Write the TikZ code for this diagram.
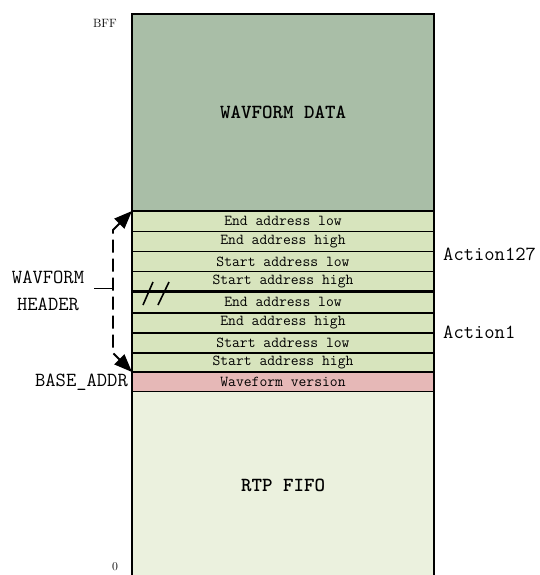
\documentclass[tikz,border=0pt]{standalone}
\usetikzlibrary{arrows.meta,positioning}
\definecolor{DataGreen}{RGB}{169,190,167}
\definecolor{HeadGreen}{RGB}{215,228,189}
\definecolor{FifoGreen}{RGB}{235,241,222}
\definecolor{VerPink}{RGB}{230,184,183}
\tikzset{
  memblock/.style={draw=black,line width=1.4pt,inner sep=0pt,outer sep=0pt,minimum width=302pt,font=\fontsize{20}{22}\selectfont\ttfamily\bfseries},
  hdrrow/.style={draw=black,line width=1.2pt,fill=HeadGreen,inner sep=0pt,outer sep=0pt,minimum width=302pt,font=\fontsize{15.2}{16}\selectfont\ttfamily},
  sidelabel/.style={inner sep=0pt,font=\fontsize{20}{27}\selectfont\ttfamily},
  addrlabel/.style={inner sep=0pt,font=\fontsize{12}{13}\selectfont},
  hdrpath/.style={{Triangle[length=18pt,width=14pt]}-{Triangle[length=18pt,width=14pt]},line width=1.8pt,dash pattern=on 13pt off 6pt},
  ticklink/.style={line width=1pt}
}

\begin{document}
\begin{tikzpicture}[x=1pt,y=-1pt]
\useasboundingbox (0,0) rectangle (539,575);
\clip (0,0) rectangle (539,575);

\node[memblock,fill=DataGreen,minimum height=197pt] (data) at (283,112.5) {WAVFORM DATA};
\node[memblock,fill=FifoGreen,minimum height=188.5pt] (fifo) at (283,485.75) {RTP FIFO};

\node[hdrrow,minimum height=20.5pt] (r1) at (283,221.25) {End address low};
\node[hdrrow,minimum height=20pt] (r2) at (283,241.5) {End address high};
\node[hdrrow,minimum height=20pt] (r3) at (283,261.5) {Start address low};
\node[hdrrow,minimum height=20pt] (r4) at (283,281.5) {Start address high};
\node[hdrrow,minimum height=21.5pt] (r5) at (283,302.25) {End address low};
\node[hdrrow,minimum height=20pt] (r6) at (283,323) {End address high};
\node[hdrrow,minimum height=20pt] (r7) at (283,343) {Start address low};
\node[hdrrow,minimum height=19pt] (r8) at (283,362.5) {Start address high};
\node[hdrrow,fill=VerPink,minimum height=19.5pt] (ver) at (283,381.75) {Waveform version};

\draw[line width=2.2pt] (r4.south west) -- (r4.south east);
\draw[line width=1.8pt] (132,580) -- (132,14) -- (434,14) -- (434,580);

% break marks
\draw[line width=1.6pt] (143,305) -- (153,282);
\draw[line width=1.6pt] (158,305) -- (169,282);

\node[addrlabel,anchor=east] (bff) at (117,23) {BFF};
\node[addrlabel] (zero) at (115,567) {0};
\node[sidelabel,anchor=east] (base) at (128,382) {BASE\_ADDR};
\node[sidelabel,anchor=west] (act127) at (443,254) {Action127};
\node[sidelabel,anchor=west] (act1) at (443,332) {Action1};
\node[sidelabel,align=center] (hdr) at (48,291) {WAVFORM\\HEADER};

\coordinate (bendtop) at (113,230);
\coordinate (bendbot) at (113,353);
\coordinate (tickend) at (113,288);
\draw[hdrpath] (r1.north west) -- (bendtop) -- (bendbot) -- (r8.south west);
\draw[ticklink,shorten <=10pt] (hdr.east |- tickend) -- (tickend);
\end{tikzpicture}
\end{document}
